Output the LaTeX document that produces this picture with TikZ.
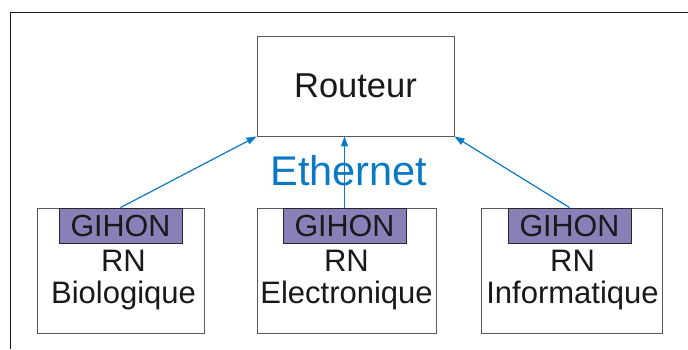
\documentclass[tikz,border=0pt]{standalone}
\usepackage{fontspec}
\setmainfont{Liberation Sans}
\usetikzlibrary{arrows.meta,positioning}
\definecolor{ethblue}{HTML}{0A79C4}
\definecolor{gihonpurple}{HTML}{8A80B8}
\begin{document}
\begin{tikzpicture}[x=1pt, y=-1pt,
  box/.style={draw=black!65, line width=0.9pt, fill=white, inner sep=0pt, text=black!90},
  tag/.style={draw=black!85, line width=0.9pt, fill=gihonpurple, minimum width=123pt,
              minimum height=35pt, inner sep=0pt, text=black!90, font=\fontsize{30.5}{32}\selectfont},
  lbl/.style={align=center, inner sep=0pt, anchor=north, text=black!90, font=\fontsize{31}{32}\selectfont},
  arr/.style={-{Triangle[length=10pt, width=7pt]}, ethblue, line width=1.2pt}]
\useasboundingbox (0,0) rectangle (688,349);
\draw[line width=1pt, black!90] (10,349) -- (10,12) -- (688,12);
\node[box, minimum width=197pt, minimum height=100pt, font=\fontsize{34.5}{36}\selectfont] (rout) at (355.5,86) {Routeur};
\node[box, minimum width=167pt, minimum height=125pt] (bio) at (120.5,270.5) {};
\node[box, minimum width=179pt, minimum height=125pt] (elec) at (346.5,270.5) {};
\node[box, minimum width=181pt, minimum height=125pt] (info) at (571.5,270.5) {};
\node[tag, anchor=north] (gbio) at (bio.north) {GIHON};
\node[tag, anchor=north, xshift=-2pt] (gelec) at (elec.north) {GIHON};
\node[tag, anchor=north, xshift=-2pt] (ginfo) at (info.north) {GIHON};
\node[lbl] (tbio) at ([xshift=3pt, yshift=-7pt]bio.north |- gbio.south) {RN\\Biologique};
\node[lbl] (telec) at ([yshift=-7pt]elec.north |- gelec.south) {RN\\Electronique};
\node[lbl] (tinfo) at ([xshift=1pt, yshift=-7pt]info.north |- ginfo.south) {RN\\Informatique};
\node[text=ethblue, font=\fontsize{41.5}{44}\selectfont] (eth) at (349,171) {Ethernet};
\draw[arr] (gbio.north) -- (rout.south west);
\draw[arr] (gelec.north) -- (gelec.north |- rout.south);
\draw[arr] (ginfo.north) -- (rout.south east);
\end{tikzpicture}
\end{document}
